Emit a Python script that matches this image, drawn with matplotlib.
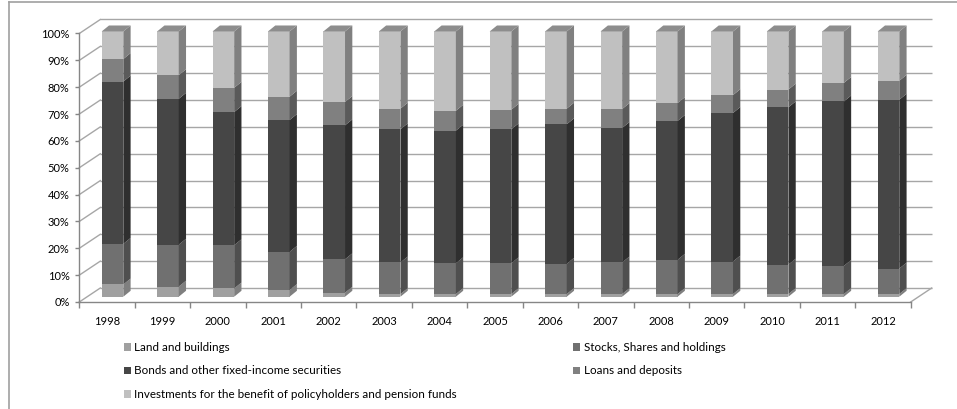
import matplotlib
matplotlib.use("Agg")
import matplotlib.pyplot as plt
import matplotlib.transforms as mtransforms
from matplotlib.patches import Polygon
from matplotlib.lines import Line2D
import numpy as np

years = ["1998", "1999", "2000", "2001", "2002", "2003", "2004", "2005",
         "2006", "2007", "2008", "2009", "2010", "2011", "2012"]
series_names = ["Land and buildings", "Stocks, Shares and holdings",
                "Bonds and other fixed-income securities", "Loans and deposits",
                "Investments for the benefit of policyholders and pension funds"]
land = [4.6, 3.8, 3.1, 2.5, 1.5, 1.0, 1.0, 1.0, 1.0, 1.0, 1.0, 1.0, 1.0, 1.0, 1.0]
stocks = [15.3, 15.8, 16.3, 14.4, 12.6, 11.9, 11.6, 11.6, 11.4, 11.9, 12.9, 12.25, 11.1, 10.6, 9.6]
bonds = [61.2, 55.0, 50.2, 49.7, 50.5, 50.2, 50.0, 50.5, 52.6, 50.7, 52.35, 56.0, 59.3, 62.0, 63.65]
loans = [8.5, 8.9, 9.15, 8.8, 8.8, 7.8, 7.5, 7.4, 5.9, 7.15, 6.75, 6.75, 6.7, 7.0, 7.15]
invest = [10.4, 16.5, 21.25, 24.6, 26.6, 29.1, 29.9, 29.5, 29.1, 29.25, 27.0, 24.0, 21.9, 19.4, 18.6]
yticks = [0, 10, 20, 30, 40, 50, 60, 70, 80, 90, 100]

front_cols = ["#a0a0a0", "#707070", "#464646", "#808080", "#c0c0c0"]
side_cols = ["#7f7f7f", "#4f4f4f", "#2f2f2f", "#5a5a5a", "#808080"]
top_col = "#8d8d8d"
grid_col = "#a6a6a6"

W, H = 957, 409
fig = plt.figure(figsize=(W / 100, H / 100), dpi=100)
ax_l, ax_r, ax_t, ax_b = 79.3, 910.7, 33.5, 302.0
ax = fig.add_axes([ax_l / W, (H - ax_b) / H, (ax_r - ax_l) / W, (ax_b - ax_t) / H])
n = len(years)
ax.set_xlim(-0.5, n - 0.5)
ax.set_ylim(0, 100)
for s in ax.spines.values():
    s.set_visible(False)

px_x = (ax_r - ax_l) / n          # pixels per category
px_y = (ax_b - ax_t) / 100.0      # pixels per percent
DX, DY = 21 / px_x, 14 / px_y     # wall depth in data units
BDX, BDY = 7.3 / px_x, 6.0 / px_y  # bar depth
bw = 21.6 / px_x

def shifted(dx_px, dy_px):
    return ax.transData + mtransforms.ScaledTranslation(dx_px / 100, dy_px / 100, fig.dpi_scale_trans)

tr_back = shifted(21, 14)
tr_bar = mtransforms.Affine2D().scale(1, 0.988) + shifted(5.5, 5.3)

# back wall gridlines
ax.hlines(yticks, -0.5, n - 0.5, colors=grid_col, lw=1.0, transform=tr_back, zorder=1, clip_on=False)
# left wall diagonals
for yv in yticks:
    ax.plot([-0.5, -0.5 + DX], [yv, yv + DY], color=grid_col, lw=1.0, zorder=1, clip_on=False)
# floor
ax.plot([-0.5, n - 0.5], [0, 0], color="#868686", lw=1.0, zorder=2, clip_on=False)
ax.plot([n - 0.5, n - 0.5 + DX], [0, DY], color=grid_col, lw=1.0, zorder=1, clip_on=False)
# y axis line
ax.plot([-0.5, -0.5], [0, 100], color="#868686", lw=1.0, zorder=2, clip_on=False)

x = np.arange(n)
data = [land, stocks, bonds, loans, invest]
bottom = np.zeros(n)
handles = []
for k, vals in enumerate(data):
    vals = np.array(vals, dtype=float)
    bars = ax.bar(x, vals, bottom=bottom, width=bw, color=front_cols[k], lw=0,
                  transform=tr_bar, zorder=3, label=series_names[k], clip_on=False)
    handles.append(bars)
    for i in range(n):
        y0, y1 = bottom[i], bottom[i] + vals[i]
        xr = x[i] + bw / 2
        side = Polygon([[xr, y0], [xr, y1], [xr + BDX, y1 + BDY], [xr + BDX, y0 + BDY]],
                       closed=True, fc=side_cols[k], ec="none", transform=tr_bar, zorder=3, clip_on=False)
        ax.add_patch(side)
        if k == len(data) - 1:
            xl = x[i] - bw / 2
            top = Polygon([[xl, y1], [xr, y1], [xr + BDX, y1 + BDY], [xl + BDX, y1 + BDY]],
                          closed=True, fc=top_col, ec="none", transform=tr_bar, zorder=3, clip_on=False)
            ax.add_patch(top)
    bottom = bottom + vals

font = "Lato"
ax.set_yticks(yticks)
ax.set_yticklabels([f"{v}%" for v in yticks], fontfamily=font, fontsize=8, color="#000000")
ax.tick_params(axis="y", length=3, width=1, color="#868686", pad=4)
ax.set_xticks(x)
ax.set_xticklabels(years, fontfamily=font, fontsize=8, color="#000000")
ax.set_xticks(np.arange(-0.5, n), minor=True)
ax.tick_params(axis="x", which="major", length=0, pad=10)
ax.tick_params(axis="x", which="minor", length=4, width=1, color="#868686")

# chart border (partially visible)
fig.add_artist(Line2D([9 / W, 9 / W], [0, 1 - 2 / H], color="#a0a0a0", lw=1.2, transform=fig.transFigure))
fig.add_artist(Line2D([9 / W, 1], [1 - 2 / H, 1 - 2 / H], color="#a0a0a0", lw=1.2, transform=fig.transFigure))

order = [0, 2, 4, 1, 3]
leg = fig.legend([handles[i] for i in order], [series_names[i] for i in order],
                 loc="upper left", bbox_to_anchor=(124 / W, 1 - 342 / H), ncol=2, frameon=False,
                 prop={"family": font, "size": 8.4}, handlelength=0.6, handleheight=0.6,
                 handletextpad=0.3, labelspacing=1.07, columnspacing=9.95, borderpad=0, borderaxespad=0)

fig.savefig("out.png", dpi=100)
